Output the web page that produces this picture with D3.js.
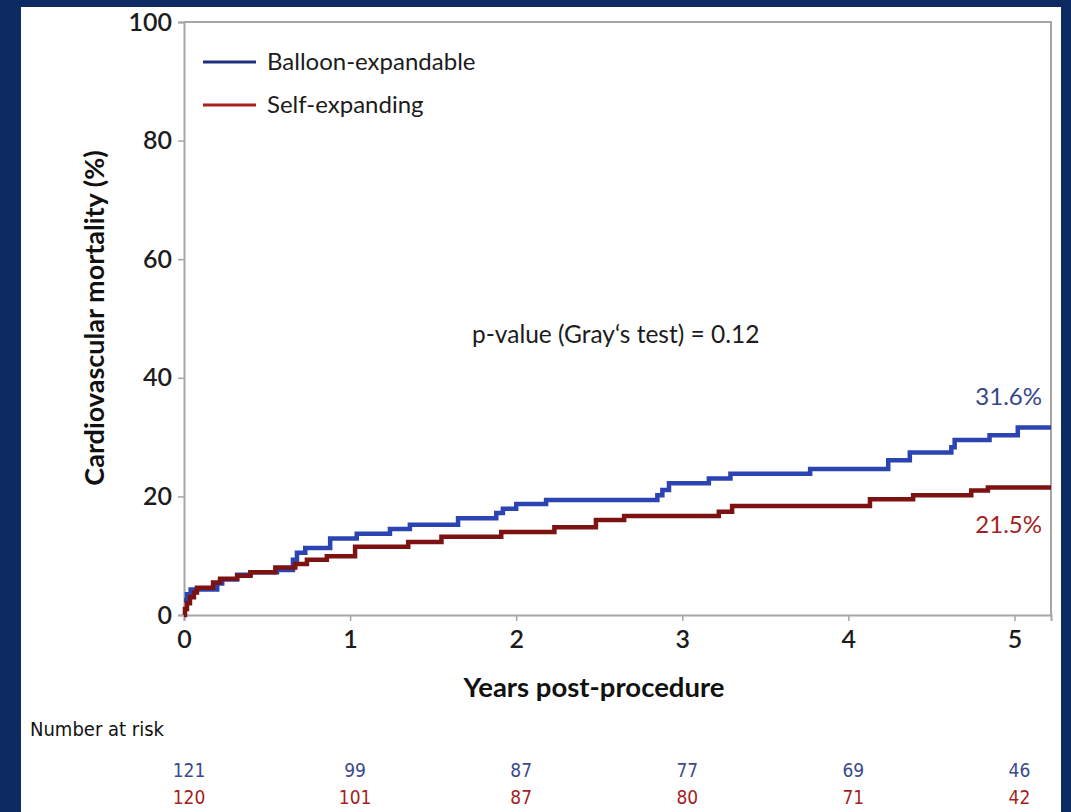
<!DOCTYPE html>
<html>
<head>
<meta charset="utf-8">
<script src="https://cdn.jsdelivr.net/npm/d3@7"></script>
<style>
  html, body { margin: 0; padding: 0; background: #0e2a62; }
  svg { display: block; }
  text { font-family: Lato, "Open Sans", sans-serif; }
  .narrow { font-family: "Liberation Sans Narrow", "DejaVu Sans Condensed", sans-serif; }
</style>
</head>
<body>
<script>
// Cumulative incidence of cardiovascular death, step points [years, %]
const balloonTimes  = [0, 0.018, 0.04, 0.20, 0.23, 0.32, 0.40, 0.56, 0.656, 0.68, 0.73, 0.88, 1.04, 1.24, 1.36, 1.65, 1.88, 1.92, 2.00, 2.18, 2.85, 2.88, 2.92, 3.16, 3.29, 3.77, 4.24, 4.37, 4.62, 4.64, 4.85, 5.02, 5.22];
const balloonValues = [2.5, 3.5, 4.3, 5.3, 6.0, 6.8, 7.2, 7.6, 9.3, 10.5, 11.3, 12.9, 13.7, 14.5, 15.2, 16.3, 17.2, 17.9, 18.7, 19.4, 20.2, 21.1, 22.2, 23.0, 23.8, 24.6, 26.1, 27.4, 28.3, 29.5, 30.3, 31.6, 31.6];

const selfTimes  = [0, 0.006, 0.018, 0.036, 0.06, 0.078, 0.175, 0.217, 0.32, 0.40, 0.55, 0.67, 0.74, 0.86, 1.03, 1.35, 1.55, 1.91, 2.23, 2.48, 2.65, 3.22, 3.30, 4.13, 4.39, 4.74, 4.84, 5.22];
const selfValues = [0, 1.0, 2.0, 3.0, 3.8, 4.6, 5.5, 6.1, 6.6, 7.2, 8.0, 8.6, 9.3, 9.9, 11.5, 12.3, 13.2, 14.0, 14.8, 16.0, 16.7, 17.4, 18.4, 19.5, 20.2, 21.0, 21.5, 21.5];

const seriesNames = ["Balloon-expandable", "Self-expanding"];
const endLabels = ["31.6%", "21.5%"];

const xTicks = [0, 1, 2, 3, 4, 5];
const yTicks = [0, 20, 40, 60, 80, 100];

const riskYears = [0, 1, 2, 3, 4, 5];
const riskBalloon = [121, 99, 87, 77, 69, 46];
const riskSelf = [120, 101, 87, 80, 71, 42];

const W = 1071, H = 812;
const plot = { left: 184, right: 1051, top: 22, bottom: 615 };

const svg = d3.select("body").append("svg").attr("width", W).attr("height", H);

// white card on navy slide
svg.append("rect").attr("x", 21).attr("y", 7).attr("width", 1040).attr("height", H - 7).attr("fill", "#ffffff");

const x = d3.scaleLinear().domain([0, 5.22]).range([plot.left, plot.right]);
const y = d3.scaleLinear().domain([0, 100]).range([plot.bottom, plot.top]);

// frame: top and right edges
svg.append("path")
  .attr("d", `M${plot.left},${plot.top}H${plot.right}V${plot.bottom}`)
  .attr("fill", "none").attr("stroke", "#a6a6a6").attr("stroke-width", 2);

// axes
const yAxis = svg.append("g").attr("transform", `translate(${plot.left},0)`)
  .call(d3.axisLeft(y).tickValues(yTicks).tickFormat(d3.format("d")).tickSize(6).tickPadding(6));
const xAxis = svg.append("g").attr("transform", `translate(0,${plot.bottom})`)
  .call(d3.axisBottom(x).tickValues(xTicks).tickFormat(d3.format("d")).tickSize(6).tickPadding(6));

[yAxis, xAxis].forEach(g => {
  g.select(".domain").attr("stroke", "#a6a6a6").attr("stroke-width", 2);
  g.selectAll(".tick line").attr("stroke", "#a6a6a6").attr("stroke-width", 1.5);
  g.selectAll(".tick text")
    .attr("fill", "#1c1c1c")
    .style("font-family", "Lato, 'Open Sans', sans-serif")
    .style("font-size", "25px")
    .style("font-weight", "600");
});
xAxis.selectAll(".tick text").attr("dy", "0.85em");

// cumulative incidence curves
const line = d3.line()
  .x(d => x(d[0]))
  .y(d => y(d[1]))
  .curve(d3.curveStepAfter);

const balloonData = balloonTimes.map((t, i) => [t, balloonValues[i]]);
const selfData = selfTimes.map((t, i) => [t, selfValues[i]]);

svg.append("path").datum(balloonData)
  .attr("d", line).attr("fill", "none")
  .attr("stroke", "#2b44b2").attr("stroke-width", 4.5);
svg.append("path").datum(selfData)
  .attr("d", line).attr("fill", "none")
  .attr("stroke", "#7d1213").attr("stroke-width", 4.5);

// end-of-follow-up labels
svg.append("text").attr("x", 1042).attr("y", y(31.6) - 23)
  .attr("text-anchor", "end").attr("fill", "#354786")
  .style("font-size", "24px").text(endLabels[0]);
svg.append("text").attr("x", 1042).attr("y", y(21.5) + 45)
  .attr("text-anchor", "end").attr("fill", "#a51f22")
  .style("font-size", "24px").text(endLabels[1]);

// legend
const legendColors = ["#1f2f7c", "#a8201f"];
seriesNames.forEach((name, i) => {
  const ly = 62 + i * 43;
  svg.append("line").attr("x1", 203).attr("x2", 256).attr("y1", ly).attr("y2", ly)
    .attr("stroke", legendColors[i]).attr("stroke-width", 3);
  svg.append("text").attr("x", 267).attr("y", ly + 8)
    .attr("fill", "#1c1c1c").style("font-size", "24px").text(name);
});

// test statistic
svg.append("text").attr("x", 472).attr("y", 343)
  .attr("fill", "#1c1c1c").style("font-size", "24.5px")
  .text("p-value (Gray\u2018s test) = 0.12");

// axis titles
svg.append("text").attr("x", 594).attr("y", 697)
  .attr("text-anchor", "middle").attr("fill", "#111")
  .style("font-size", "27.5px").style("font-weight", "700")
  .text("Years post-procedure");
svg.append("text")
  .attr("transform", `translate(104,318) rotate(-90)`)
  .attr("text-anchor", "middle").attr("fill", "#111")
  .style("font-size", "27px").style("font-weight", "700")
  .text("Cardiovascular mortality (%)");

// number at risk table
svg.append("text").attr("class", "narrow").attr("x", 30).attr("y", 736)
  .attr("fill", "#111").style("font-size", "20px").text("Number at risk");

const riskRows = [
  { values: riskBalloon, color: "#3a4a8c", y: 777 },
  { values: riskSelf, color: "#a51f22", y: 804 }
];
riskRows.forEach(row => {
  svg.append("g").selectAll("text").data(riskYears).join("text")
    .attr("class", "narrow")
    .attr("x", d => x(d) + 5)
    .attr("y", row.y)
    .attr("text-anchor", "middle")
    .attr("fill", row.color)
    .style("font-size", "19px")
    .text((d, i) => row.values[i]);
});
</script>
</body>
</html>
